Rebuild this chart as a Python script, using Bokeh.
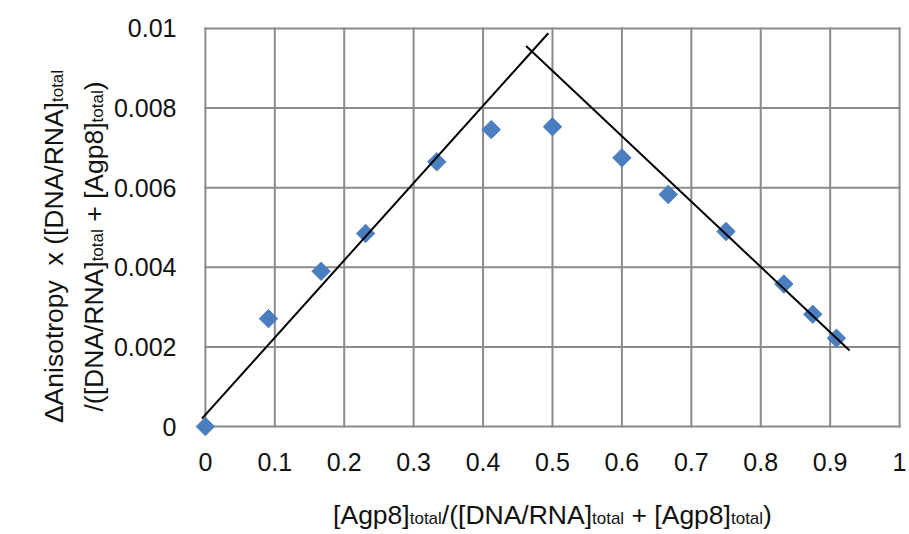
import numpy as np
from bokeh.plotting import figure
from bokeh.layouts import row, column
from bokeh.models import Range1d, FixedTicker, ColumnDataSource
from bokeh.core.properties import value
from bokeh.embed import file_html
from bokeh.resources import INLINE

# ---- data ----
frac = [0.0, 0.0909, 0.1667, 0.2308, 0.3333, 0.4118, 0.5, 0.6, 0.6667, 0.75, 0.8333, 0.875, 0.9091]
aniso = [0.0, 0.00271, 0.00390, 0.00485, 0.00665, 0.00746, 0.00753, 0.00675, 0.00583, 0.00490, 0.00358, 0.00282, 0.00222]
fit1_x = [-0.005, 0.494]
fit1_y = [0.0002, 0.00988]
fit2_x = [0.462, 0.928]
fit2_y = [0.00956, 0.00191]
x_ticks = [0, 0.1, 0.2, 0.3, 0.4, 0.5, 0.6, 0.7, 0.8, 0.9, 1]
x_tick_labels = ["0", "0.1", "0.2", "0.3", "0.4", "0.5", "0.6", "0.7", "0.8", "0.9", "1"]
y_ticks = [0, 0.002, 0.004, 0.006, 0.008, 0.01]
y_tick_labels = ["0", "0.002", "0.004", "0.006", "0.008", "0.01"]
x_title = [("[Agp8]", False), ("total", True), ("/([DNA/RNA]", False), ("total", True),
           (" + [Agp8]", False), ("total", True), (")", False)]
y_title_1 = [("\u0394Anisotropy  x ([DNA/RNA]", False), ("total", True)]
y_title_2 = [("/([DNA/RNA]", False), ("total", True), (" + [Agp8]", False), ("total", True), (")", False)]

FONT = "Liberation Sans"
TXT = "#111111"
GRID = "#8a8a8a"
BLUE = "#4A7EBF"

W_TOTAL, H_TOTAL = 909, 534
YT_W = 110          # width of the y-title strip
XT_H = 44           # height of the x-title strip
MAIN_W, MAIN_H = W_TOTAL - YT_W, H_TOTAL - XT_H
B_LEFT, B_RIGHT, B_TOP, B_BOTTOM = 81, 3, 20, 52

p = figure(width=MAIN_W, height=MAIN_H, output_backend="svg", toolbar_location=None,
           x_range=Range1d(-0.02, 1.01), y_range=Range1d(-0.0003, 0.0102),
           min_border_left=B_LEFT, min_border_right=B_RIGHT,
           min_border_top=B_TOP, min_border_bottom=B_BOTTOM)
p.outline_line_color = None
p.grid.visible = False
p.background_fill_color = "white"
p.border_fill_color = "white"

for ax, ticks, labels in ((p.xaxis[0], x_ticks, x_tick_labels), (p.yaxis[0], y_ticks, y_tick_labels)):
    ax.ticker = FixedTicker(ticks=ticks)
    ax.major_label_overrides = {t: l for t, l in zip(ticks, labels)}
    ax.axis_line_color = None
    ax.major_tick_line_color = None
    ax.minor_tick_line_color = None
    ax.major_tick_out = 0
    ax.major_tick_in = 0
    ax.major_label_text_font = FONT
    ax.major_label_text_font_size = "25px"
    ax.major_label_text_color = TXT
p.xaxis[0].major_label_standoff = 14
p.yaxis[0].major_label_standoff = 15

# grid lines limited to the data box 0..1 x 0..0.01
p.segment(x0=x_ticks, y0=[y_ticks[0]] * len(x_ticks), x1=x_ticks, y1=[y_ticks[-1]] * len(x_ticks),
          line_color=GRID, line_width=2, line_cap="square")
p.segment(x0=[x_ticks[0]] * len(y_ticks), y0=y_ticks, x1=[x_ticks[-1]] * len(y_ticks), y1=y_ticks,
          line_color=GRID, line_width=2, line_cap="square")

p.scatter(frac, aniso, marker="square", angle=np.pi / 4, size=13,
          fill_color=BLUE, line_color=BLUE)
p.line(fit1_x, fit1_y, line_color="black", line_width=2)
p.line(fit2_x, fit2_y, line_color="black", line_width=2)

# ---- axis titles with subscripts (pixel-space strips) ----
W = {' ': 278, '[': 278, ']': 278, '(': 333, ')': 333, '/': 278, '+': 584, 'A': 667, 'D': 722,
     'N': 722, 'R': 722, 'g': 556, 'p': 556, '8': 556, 't': 278, 'o': 556, 'a': 556, 'l': 222,
     'x': 500, 'n': 556, 'i': 222, 's': 500, 'r': 333, 'y': 500, '\u0394': 668}
S_MAIN, S_SUB, SUB_SHIFT = 26.5, 17, 4


def layout(segments):
    pieces, pos = [], 0.0
    for text, sub in segments:
        size = S_SUB if sub else S_MAIN
        word, wstart = "", pos
        for ch in text:
            w = W.get(ch, 556) * size / 1000
            if ch == " ":
                if word:
                    pieces.append((wstart, word, size, sub))
                word = ""
                pos += w
                wstart = pos
            else:
                if not word:
                    wstart = pos
                word += ch
                pos += w
        if word:
            pieces.append((wstart, word, size, sub))
    return pieces, pos


def strip(width, height, bl, br, bt, bb):
    # ranges chosen so that data units equal local pixels (x from left, y from bottom)
    f = figure(width=width, height=height, output_backend="svg", toolbar_location=None,
               x_range=Range1d(bl, width - br), y_range=Range1d(bb, height - bt),
               x_axis_location=None, y_axis_location=None,
               min_border_left=bl, min_border_right=br, min_border_top=bt, min_border_bottom=bb)
    f.outline_line_color = None
    f.grid.visible = False
    f.background_fill_color = "white"
    f.border_fill_color = "white"
    return f


# x title strip: below the main plot (same left/right borders as the main plot)
xs = strip(MAIN_W, XT_H, B_LEFT, B_RIGHT, 0, 0)
pieces, total = layout(x_title)
cx, base_y = 552 - YT_W, 514 - MAIN_H     # canvas centre x / baseline, strip-local
src = ColumnDataSource(dict(
    x=[cx - total / 2 + o for o, t, s, sub in pieces],
    y=[XT_H - (base_y + (SUB_SHIFT if sub else 0)) for o, t, s, sub in pieces],
    text=[t for o, t, s, sub in pieces],
    size=[f"{s}px" for o, t, s, sub in pieces]))
xs.text(x="x", y="y", text="text", source=src, text_font=value(FONT), text_font_size="size",
        text_color=TXT, text_align="left", text_baseline="alphabetic")

# y title strip: two rotated lines (same top border as the main plot)
ys = strip(YT_W, H_TOTAL, 0, 0, B_TOP, 0)
CENTER_PX = 246
X, Y, T, SZ = [], [], [], []
for segs, base_x in ((y_title_1, 53), (y_title_2, 93)):
    pieces, total = layout(segs)
    for o, t, s, sub in pieces:
        X.append(base_x + (SUB_SHIFT if sub else 0))
        Y.append(H_TOTAL - (CENTER_PX + total / 2 - o))
        T.append(t)
        SZ.append(f"{s}px")
ys.text(x="x", y="y", text="text", source=ColumnDataSource(dict(x=X, y=Y, text=T, size=SZ)),
        angle=np.pi / 2, text_font=value(FONT), text_font_size="size",
        text_color=TXT, text_align="left", text_baseline="alphabetic")

page = row(ys, column(p, xs))
open("out.html", "w").write(file_html(page, INLINE))
